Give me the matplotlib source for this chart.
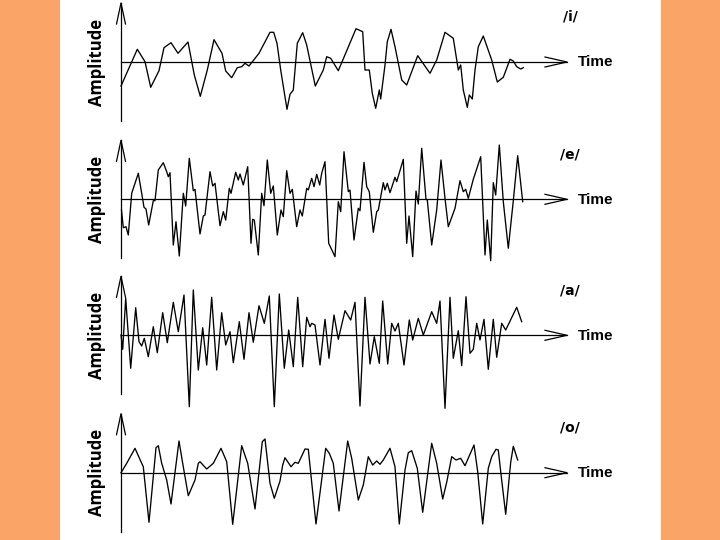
import matplotlib.pyplot as plt
from matplotlib.patches import Rectangle

# waveform samples: time (px from the amplitude axis), amplitude (px)
t_i = [0, 16.3, 24, 29.7, 38, 43, 50, 57, 67, 73.3, 79.3, 86.3, 93, 101, 104.7, 110.7,
       116.3, 120.7, 124, 128, 138, 149, 152.7, 156, 159.7, 166, 169, 172.3, 176.3, 181.7,
       185.7, 194.3, 202.3, 205.7, 209.7, 217.3, 235, 241.7, 244, 248.3, 251.3, 254.7,
       258.3, 259.7, 264, 266.3, 270, 274, 280.7, 285.7, 296.7, 309, 315.7, 324, 332.3,
       337.3, 339.7, 342.3, 346.3, 348.3, 351.3, 354, 357.3, 362.3, 370.7, 376.3, 382.3,
       389, 392.3, 395.7, 399.7, 402.3]
a_i = [-24, 12.7, 0.3, -25.3, -8.7, 14.3, 19.3, 8.7, 20, -13, -34.3, -8, 22.3, 8.7, -9,
       -15.7, -5.7, -4.7, -1.3, -4, 8.7, 29.7, 29.7, 18.7, -8, -47.3, -32.3, -28, 18.7, 29.3,
       17, -24, -8, 5.3, 3.7, -8.7, 33.3, 30.3, -8, -8, -31.3, -46.3, -28, -37, -3, 20.3,
       32.7, 15.3, -18, -23, 6.3, -11.3, 2, 29.7, 23.7, -8, -3, -28, -45.3, -33, -37, -8,
       15.3, 26, 2, -20, -15.3, 2.7, 1, -4.7, -7, -5.7]

t_e = [0.5, 2.3, 5, 7.3, 10.7, 17.3, 20.7, 23, 25, 27.7, 32.3, 34, 37.3, 42.3, 45.7, 47.3,
       49, 52.3, 55, 58.3, 62.3, 64.7, 68.3, 72.3, 74, 79, 82.3, 84, 89, 91.7, 94, 99,
       102.3, 104.7, 108.3, 110, 114.7, 117.3, 119, 122.3, 126.7, 130, 131.7, 133.3, 137.3,
       140.7, 143, 146.3, 149.7, 152.3, 156.3, 160, 162.3, 165.7, 169, 171.3, 175.7, 179,
       181.3, 185.7, 187.3, 190.7, 193, 195.7, 198.7, 200.7, 204, 207.7, 214, 217.3, 219.7,
       223, 227.3, 229, 233, 237.3, 239, 243, 245.7, 248.3, 252.3, 255.7, 257.3, 262.3, 264,
       266.3, 269, 274, 275.7, 282.3, 285.7, 288, 291.7, 295, 297.3, 300.7, 305, 306.3,
       310.7, 315.7, 320, 324, 327.3, 334, 339, 342.3, 344.7, 347.3, 352.3, 359.7, 364,
       366.3, 369.7, 372.3, 374.7, 378.3, 382.3, 387.3, 392.3, 396.7, 401.7]
a_e = [-10.7, -28.4, -27.4, -35.7, 6, 26, 6, -8, -9.7, -25.7, -1.4, -1.4, 29.3, 36.6, 27.6,
       22.6, 26.6, -45.7, -22.4, -56.7, 6, -6.7, 41, 8.6, 10, -34.7, -16.7, -15.7, 27.6,
       13.3, 16, -26.4, -12.4, -20.7, 11, 6, 27, 19.3, 25.3, 14.3, 32.6, -44, -20, -20.7,
       -55.7, 6, -6.4, 39.3, 6, 13.3, -35.7, -10.7, -17.4, 28.6, 6, 10, -27.4, -10.7, -16.7,
       11, 9.3, 21, 12.6, 25, 14.3, 26, 37.6, -44, -57.4, -2.4, -12.4, 47.6, 7.6, 9.3,
       -40.7, -9, -11.4, 37, 12.6, 7.6, -33, -12.4, -10.7, 16.6, 9.3, 16, 6.6, 22, 17.6, 40,
       -44, -16.7, -57.4, 8.3, -4.7, 51, 0, -0.7, -45.7, -10.7, 39.3, 1, -27.4, -9, 18.6,
       7.6, 10, 1, 20, 42.6, -55.7, -20.7, -61.4, 16.6, 4.3, 54.3, -2.4, -49, -1.4, 43.6,
       -2.4]

t_a = [0, 1.7, 4.7, 9.7, 14.7, 18, 20.7, 23.3, 27.3, 32.3, 36.3, 41.7, 46.3, 52.3, 57.3,
       63, 68.3, 72.3, 77.3, 81.7, 85.7, 90.7, 95.7, 100.7, 104.7, 109, 112.3, 118.3, 123,
       128, 132.3, 138, 143.3, 148.3, 153.3, 158.3, 163.3, 167.7, 172.3, 176.7, 181.7,
       185.7, 189, 190.7, 194, 199, 204, 208, 213, 217.3, 224, 229.7, 234, 239, 244, 249,
       253.3, 258.3, 261.7, 266.7, 270.7, 274, 277.3, 283, 288.3, 291.7, 297.3, 302.3,
       310.7, 315.7, 319, 324, 329, 332.3, 337.3, 340.7, 345, 349, 352.3, 355.7, 359, 363,
       367.3, 372.3, 375.7, 380.7, 384.7, 395.7, 400.7]
a_a = [0.3, -14, 37, -33, 27.6, -6.4, -10.7, -3, -21.4, 8.6, -17.4, 22.6, -7.4, 33, 3.6,
       40.3, -71.4, 45.3, -34.7, 7.6, -29.7, 38, -34.7, 22.6, -9.7, 3.6, -27.4, 13.6, -24,
       22.6, -7, 29.6, 12, 39.3, -71.4, 41.3, -33, 5.3, -31.4, 38, -31.4, 18, 8.6, 12, 10.3,
       -29.7, 16, -23, 20.3, -4, 24.6, 15.3, 33, -70.7, 38, -28.7, -1.4, -28, 34.3, -28.7,
       12, 4.3, 12, -29.7, 15.3, -4.7, 17, 0.3, 23.6, 12, 34.3, -73, 38, -23, 4.6, -30.4,
       38.6, -18, -14, 12, -4.7, 16, -34, 16, -22, 12, 5.3, 28, 13.6]

t_o = [0, 5.7, 14, 20.7, 22.3, 28, 35, 37.3, 40.7, 45.7, 50, 58, 61.3, 67.3, 74, 77.3, 79,
       85.7, 92.3, 100, 105.7, 111.7, 120.7, 126.7, 134, 141.3, 144, 149, 153.3, 159, 161.7,
       164, 170, 174, 177.3, 184, 187.3, 195, 204.7, 208.3, 212.3, 218, 226.7, 230.7, 237.3,
       242.3, 247.3, 251.7, 255.7, 259, 262.3, 269, 274, 278.3, 284, 287.3, 290.7, 296.3,
       301.7, 310.7, 315.7, 321.7, 325.7, 330.7, 335, 339.7, 344, 353, 356.7, 361.7, 367.3,
       370.7, 375, 377.3, 379.7, 384.7, 389.7, 392.3, 396.7]
a_o = [0, 9.4, 24.4, 9.4, 6, -49.6, 25, 27, 9.4, -7.3, -31.3, 31.7, 11.7, -23, -7.3, 9.4,
       11, 3.7, 9.4, 24.4, 11, -51.6, 27, 9.4, -36.3, 31, 33.7, -10.6, -25.6, -8.3, 7.7, 15,
       6, 10.4, 9.4, 23.7, 23.4, -51.3, 24.4, 19.4, 9.4, -38.3, 31.7, 14.4, -27.3, -12.3,
       16, 7.7, 11.7, 8.4, 12.7, 24.4, 6, -51.3, 2.7, 20, 22, 4.4, -39.6, 29.4, 9.4, -26.3,
       -9.6, 16, 12.7, 14.4, 7, 27.7, 1, -51.3, 4.4, 16, 23.4, 22.7, 1, -41.6, 10.4, 26.4,
       12.7]

vowels = ['/i/', '/e/', '/a/', '/o/']
times = [t_i, t_e, t_a, t_o]
amps = [a_i, a_e, a_a, a_o]

# layout in pixels of the 720x540 picture
W, H = 720, 540
baselines = [62, 199.3, 335.3, 472.7]
x_axis = 121
half = 75

fig = plt.figure(figsize=(7.2, 5.4), dpi=100, facecolor='#FBA467')
fig.patches.append(Rectangle((60 / W, 0), 601 / W, 1, transform=fig.transFigure,
                             facecolor='white', edgecolor='none', zorder=-1))

for name, t, a, yb in zip(vowels, times, amps, baselines):
    ax = fig.add_axes([60 / W, (H - yb - half) / H, 601 / W, 2 * half / H])
    ax.set_xlim(60 - x_axis, 661 - x_axis)
    ax.set_ylim(-half, half)
    ax.axis('off')
    ax.patch.set_alpha(0)

    ax.plot(t, a, color='black', lw=0.95, clip_on=False)

    # axes with open arrow heads
    kw = dict(color='black', lw=0.9, clip_on=False)
    ax.plot([0, 0], [-59, 59], **kw)
    ax.plot([-4.5, 0, 4.5], [38, 59, 38], **kw)
    ax.plot([0, 446], [0, 0], **kw)
    ax.plot([424, 446, 424], [5, 0, -5], **kw)

    ax.text(-24.5, 0, 'Amplitude', rotation=90, ha='center', va='center',
            family='Open Sans', weight='bold', fontsize=12)
    ax.text(457, -0.5, 'Time', ha='left', va='center',
            family='Liberation Sans', weight='bold', fontsize=11)
    ax.text(449, 45, name, ha='center', va='center',
            family='DejaVu Sans', weight='bold', fontsize=10)

fig.savefig('out.png', dpi=100, facecolor=fig.get_facecolor())
